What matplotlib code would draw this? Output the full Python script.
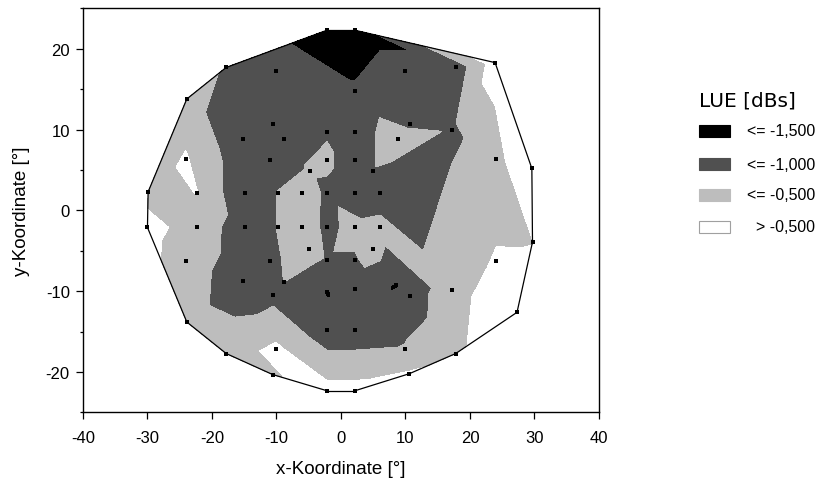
import numpy as np
import matplotlib.pyplot as plt
import matplotlib.tri as mtri
from matplotlib.patches import Rectangle
from matplotlib.ticker import MultipleLocator

plt.rcParams['font.family'] = ['Liberation Sans', 'DejaVu Sans']
plt.rcParams['axes.unicode_minus'] = False

# perimetry test locations (deg) and local deviation LUE (dB)
x = [-2.2, 2.2, -17.8, -10.0, 10.0, 17.8, 23.9, 2.2, -23.9, -10.6,
     10.7, -2.2, 2.2, 17.2, -15.2, -8.9, 8.9, -24.1, 24.0, -11.0,
     -2.2, 2.2, -4.8, 4.9, 29.6, -29.9, -22.3, -14.8, -9.7, -6.1,
     -2.2, 2.2, 6.1, -30.0, -22.3, -14.8, -9.7, -6.1, -2.2, 2.2,
     6.1, 29.7, -4.9, 4.9, -24.1, -11.0, -2.2, 2.2, 24.1, -15.2,
     -8.9, -2.2, 2.2, 8.6, 17.2, -10.6, 10.7, 27.3, -23.9, -2.2,
     2.2, -10.0, 10.0, -17.8, 17.8, -10.6, 10.6, -2.2, 2.2]
y = [22.3, 22.3, 17.7, 17.3, 17.3, 17.7, 18.3, 14.8, 13.8, 10.7,
     10.7, 9.75, 9.75, 10.0, 8.8, 8.9, 8.9, 6.4, 6.4, 6.3,
     6.3, 6.3, 4.9, 4.9, 5.2, 2.3, 2.2, 2.2, 2.2, 2.2,
     2.2, 2.2, 2.2, -2.1, -2.1, -2.1, -2.1, -2.1, -2.1, -2.1,
     -2.1, -3.9, -4.8, -4.8, -6.3, -6.2, -6.1, -6.1, -6.3, -8.7,
     -8.9, -10.1, -9.7, -9.2, -9.8, -10.5, -10.6, -12.6, -13.8, -14.8,
     -14.8, -17.2, -17.2, -17.7, -17.7, -20.3, -20.2, -22.3, -22.3]
lue = [-1.75, -1.75, -1.05, -1.25, -1.25, -1.3, -0.25, -1.45, -0.8, -1.3,
       -1.13, -1.05, -1.3, -1.08, -1.4, -1.2, -0.65, -0.45, -0.8, -1.3,
       -0.9, -1.3, -0.95, -1.05, 0.3, -0.65, -0.49, -1.45, -0.98, -0.7,
       -1.1, -1.3, -1.45, -0.35, -0.7, -1.3, -0.98, -0.7, -1.12, -0.85,
       -0.75, -0.52, -0.75, -0.75, -0.75, -1.1, -1.05, -1.05, -0.45, -1.3,
       -1.0, -1.53, -1.3, -1.53, -0.7, -1.15, -1.25, -0.05, -0.8, -1.33,
       -1.33, -0.4, -0.95, -0.7, -0.6, -0.55, -0.45, -0.33, -0.33]

levels = [-10, -1.5, -1.0, -0.5, 10]
colors = ['#000000', '#505050', '#bdbdbd', '#ffffff']
labels = ['<= -1,500', '<= -1,000', '<= -0,500', '> -0,500']

fig = plt.figure(figsize=(8.19, 4.89), dpi=100)
ax = fig.add_axes([0.1013, 0.1544, 0.630, 0.8262])

tri = mtri.Triangulation(x, y)
ax.tricontourf(tri, lue, levels=levels, colors=colors)

# outline of the tested field = boundary edges of the triangulation
xa, ya = np.asarray(x), np.asarray(y)
for i, tr in enumerate(tri.triangles):
    for j in range(3):
        if tri.neighbors[i, j] == -1:
            a, b = tr[j], tr[(j + 1) % 3]
            ax.plot([xa[a], xa[b]], [ya[a], ya[b]], color='black', lw=0.9)

ax.plot(x, y, 's', color='black', ms=2.2, mew=0)

ax.set_xlim(-40, 40)
ax.set_ylim(-25, 25)
ax.xaxis.set_major_locator(MultipleLocator(10))
ax.yaxis.set_major_locator(MultipleLocator(10))
ax.yaxis.set_minor_locator(MultipleLocator(5))
ax.tick_params(which='major', direction='out', length=5, width=0.9,
               labelsize=12, colors='black')
ax.tick_params(which='minor', direction='out', length=2.3, width=0.9)
ax.tick_params(axis='x', pad=7.5)
ax.tick_params(axis='y', pad=4.5)
for s in ax.spines.values():
    s.set_linewidth(1.0)
ax.set_xlabel('x-Koordinate [°]', fontsize=13.5, labelpad=11)
ax.set_ylabel('y-Koordinate [°]', fontsize=13.5, labelpad=11)

# legend
W, H = 819.0, 489.0
fig.text(699 / W, 1 - 101 / H, 'LUE [dBs]', fontsize=14.5, va='center',
         family=['DejaVu Sans'])
rows = [132, 165, 196, 228]
for yy, c, lab in zip(rows, colors, labels):
    fig.add_artist(Rectangle((699 / W, 1 - (yy + 6) / H), 31 / W, 12 / H,
                             transform=fig.transFigure, facecolor=c,
                             edgecolor='#a0a0a0' if c == '#ffffff' else c,
                             lw=0.8))
    fig.text(815 / W, 1 - yy / H, lab, fontsize=11.5, ha='right', va='center')

fig.savefig('out.png', dpi=100)
